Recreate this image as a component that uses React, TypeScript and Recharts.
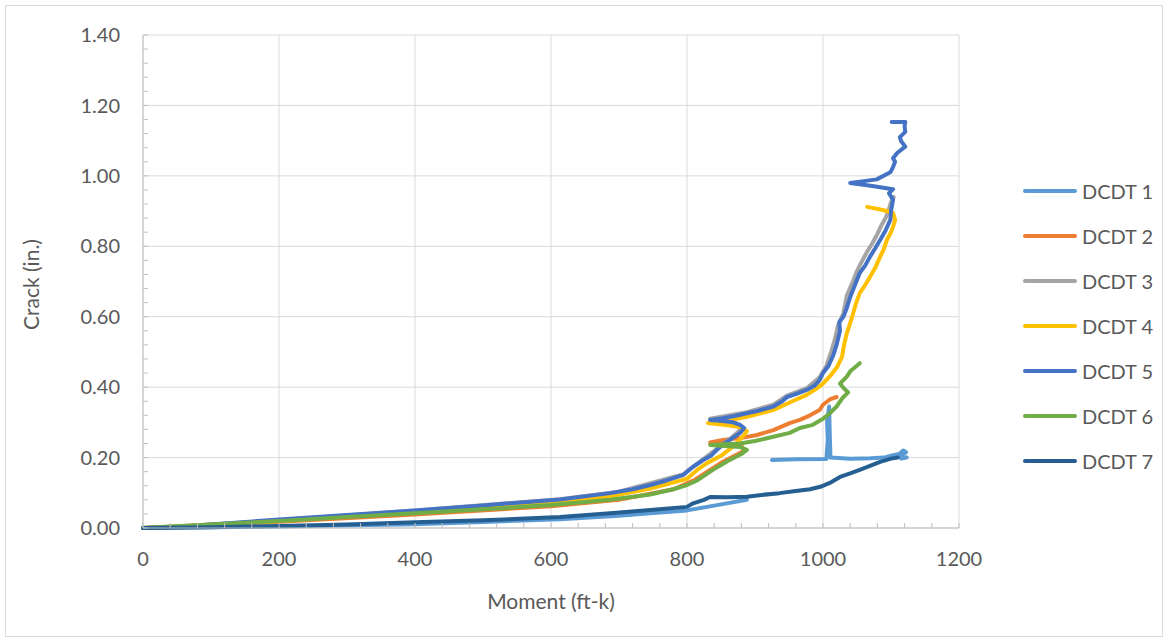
import React from "react";
import {
  LineChart,
  Line,
  XAxis,
  YAxis,
  CartesianGrid,
  Legend,
} from "recharts";

// moment (ft-k), crack (in.) pairs
const dcdt1: [number, number | null][] = [
  [0, 0], [200, 0.004], [400, 0.011], [500, 0.017], [613, 0.025], [700, 0.035],
  [746, 0.042], [800, 0.05], [844, 0.065], [888, 0.08], [900, null],
  [925, 0.193], [960, 0.195], [1005, 0.196], [1007, 0.25], [1006, 0.3],
  [1009, 0.345], [1010, 0.26], [1011, 0.2], [1040, 0.197], [1070, 0.198],
  [1090, 0.2], [1100, 0.205], [1112, 0.21], [1118, 0.22], [1122, 0.215],
  [1110, 0.205], [1123, 0.2], [1115, 0.197],
];
const dcdt2: [number, number][] = [
  [0, 0], [100, 0.008], [200, 0.018], [400, 0.038], [600, 0.062], [700, 0.08],
  [780, 0.11], [810, 0.135], [830, 0.16], [850, 0.185], [870, 0.205],
  [885, 0.22], [880, 0.233], [860, 0.238], [834, 0.243], [853, 0.25],
  [880, 0.256], [903, 0.264], [927, 0.278], [951, 0.298], [966, 0.307],
  [981, 0.32], [995, 0.335], [1000, 0.35], [1010, 0.365], [1020, 0.372],
];
const dcdt3: [number, number][] = [
  [0, 0], [100, 0.01], [200, 0.022], [400, 0.05], [613, 0.082], [700, 0.103],
  [795, 0.153], [824, 0.196], [863, 0.253], [882, 0.285], [868, 0.302],
  [834, 0.31], [888, 0.329], [927, 0.35], [947, 0.376], [976, 0.397],
  [995, 0.428], [1005, 0.46], [1012, 0.5], [1018, 0.54], [1022, 0.575],
  [1030, 0.61], [1035, 0.66], [1044, 0.7], [1050, 0.73], [1058, 0.76],
  [1065, 0.785], [1073, 0.81], [1080, 0.835], [1086, 0.86], [1092, 0.88],
  [1097, 0.905], [1100, 0.925], [1104, 0.94],
];
const dcdt4: [number, number][] = [
  [0, 0], [100, 0.009], [200, 0.02], [400, 0.047], [500, 0.06], [613, 0.074],
  [687, 0.09], [746, 0.112], [800, 0.14], [815, 0.165], [830, 0.185],
  [850, 0.205], [870, 0.235], [882, 0.26], [888, 0.275], [880, 0.286],
  [860, 0.292], [831, 0.298], [853, 0.302], [888, 0.316], [927, 0.335],
  [937, 0.344], [955, 0.36], [976, 0.378], [990, 0.395], [1000, 0.41],
  [1012, 0.435], [1021, 0.458], [1028, 0.486], [1031, 0.52], [1035, 0.553],
  [1043, 0.6], [1048, 0.635], [1054, 0.667], [1062, 0.69], [1069, 0.713],
  [1077, 0.74], [1084, 0.77], [1090, 0.795], [1094, 0.818], [1100, 0.84],
  [1103, 0.855], [1106, 0.875], [1103, 0.895], [1088, 0.903], [1065, 0.912],
];
const dcdt5: [number, number][] = [
  [0, 0], [50, 0.003], [100, 0.01], [200, 0.024], [300, 0.037], [400, 0.05],
  [500, 0.064], [613, 0.081], [687, 0.099], [720, 0.11], [746, 0.122],
  [770, 0.135], [795, 0.151], [800, 0.16], [809, 0.174], [824, 0.193],
  [835, 0.205], [844, 0.222], [855, 0.24], [863, 0.25], [878, 0.27],
  [884, 0.284], [878, 0.293], [868, 0.3], [845, 0.305], [834, 0.307],
  [853, 0.312], [870, 0.318], [888, 0.326], [905, 0.333], [927, 0.345],
  [940, 0.36], [947, 0.372], [960, 0.38], [976, 0.392], [988, 0.405],
  [995, 0.42], [1000, 0.44], [1008, 0.46], [1015, 0.49], [1020, 0.52],
  [1025, 0.56], [1024, 0.585], [1030, 0.6], [1035, 0.625], [1040, 0.656],
  [1047, 0.69], [1054, 0.724], [1062, 0.745], [1069, 0.77], [1077, 0.795],
  [1084, 0.818], [1092, 0.845], [1099, 0.875], [1100, 0.9], [1103, 0.932],
  [1097, 0.951], [1103, 0.962], [1070, 0.972], [1040, 0.98], [1060, 0.985],
  [1079, 0.99], [1099, 1.01], [1103, 1.025], [1106, 1.04], [1103, 1.05],
  [1109, 1.065], [1121, 1.083], [1115, 1.098], [1113, 1.11], [1121, 1.125],
  [1120, 1.14], [1121, 1.153], [1101, 1.153],
];
const dcdt6: [number, number][] = [
  [0, 0], [100, 0.01], [200, 0.02], [300, 0.031], [400, 0.042], [500, 0.053],
  [600, 0.065], [687, 0.08], [746, 0.095], [780, 0.11], [800, 0.122],
  [815, 0.135], [838, 0.165], [860, 0.19], [880, 0.21], [888, 0.222],
  [878, 0.23], [855, 0.233], [834, 0.236], [855, 0.238], [878, 0.24],
  [900, 0.247], [927, 0.259], [951, 0.27], [966, 0.284], [985, 0.293],
  [1000, 0.31], [1010, 0.326], [1020, 0.345], [1029, 0.37], [1037, 0.385],
  [1030, 0.398], [1025, 0.41], [1035, 0.43], [1040, 0.445], [1048, 0.458],
  [1054, 0.468],
];
const dcdt7: [number, number][] = [
  [0, 0], [100, 0.002], [200, 0.006], [300, 0.01], [400, 0.016], [500, 0.022],
  [613, 0.031], [687, 0.042], [746, 0.051], [800, 0.06], [809, 0.07],
  [825, 0.08], [834, 0.088], [860, 0.087], [888, 0.089], [910, 0.094],
  [936, 0.099], [960, 0.105], [981, 0.11], [996, 0.117], [1010, 0.128],
  [1025, 0.145], [1040, 0.155], [1054, 0.165], [1070, 0.177], [1084, 0.188],
  [1100, 0.197], [1110, 0.2],
];

const seriesNames = ["DCDT 1", "DCDT 2", "DCDT 3", "DCDT 4", "DCDT 5", "DCDT 6", "DCDT 7"];
const seriesColors = ["#5B9BD5", "#ED7D31", "#A5A5A5", "#FFC000", "#4472C4", "#70AD47", "#255E91"];
const seriesData = [dcdt1, dcdt2, dcdt3, dcdt4, dcdt5, dcdt6, dcdt7];

const xMajorTicks = [0, 200, 400, 600, 800, 1000, 1200];
const xMinorTicks = Array.from({ length: 31 }, (_, i) => i * 40);
const yMajorTicks = [0, 0.2, 0.4, 0.6, 0.8, 1.0, 1.2, 1.4];
const yMinorTicks = Array.from({ length: 36 }, (_, i) => Math.round(i * 4) / 100);

const FONT = "Lato, 'Open Sans', sans-serif";
const TEXT = "#595959";

const series = seriesNames.map((name, i) => ({
  name,
  color: seriesColors[i],
  data: seriesData[i].map(([x, y]) => ({ x, y })),
}));

const renderLegend = () => (
  <div style={{ fontFamily: FONT, fontSize: 20, color: TEXT, whiteSpace: "nowrap", width: "max-content" }}>
    {series.map((s) => (
      <div key={s.name} style={{ display: "flex", alignItems: "center", height: 45 }}>
        <span
          style={{
            display: "inline-block",
            flexShrink: 0,
            width: 54,
            height: 4,
            borderRadius: 2,
            background: s.color,
            marginRight: 5,
          }}
        />
        <span>{s.name}</span>
      </div>
    ))}
  </div>
);

const yTitle = (props: any) => {
  const vb = props.viewBox;
  const cx = 30;
  const cy = vb.y + vb.height / 2 + 3;
  return (
    <text
      x={cx}
      y={cy}
      transform={`rotate(-90, ${cx}, ${cy})`}
      textAnchor="middle"
      dominantBaseline="central"
      fill={TEXT}
      fontSize={21}
      fontFamily={FONT}
    >
      Crack (in.)
    </text>
  );
};

const xTitle = (props: any) => {
  const vb = props.viewBox;
  return (
    <text
      x={vb.x + vb.width / 2}
      y={vb.y + 72}
      textAnchor="middle"
      dominantBaseline="central"
      fill={TEXT}
      fontSize={21}
      fontFamily={FONT}
    >
      Moment (ft-k)
    </text>
  );
};

export default function App() {
  return (
    <div style={{ position: "absolute", left: 0, top: 0, width: 1169, height: 642, background: "#fff" }}>
      <div
        style={{
          position: "absolute",
          left: 5,
          top: 5,
          width: 1158,
          height: 632,
          border: "1px solid #d9d9d9",
          boxSizing: "border-box",
        }}
      />
      <div style={{ position: "absolute", left: 0, top: 0 }}>
        <LineChart width={1169} height={642} margin={{ top: 35, right: 210, bottom: 0, left: 0 }}>
          <CartesianGrid
            stroke="#d9d9d9"
            strokeWidth={1}
            verticalValues={xMajorTicks}
            horizontalValues={yMajorTicks}
          />
          <XAxis
            type="number"
            dataKey="x"
            domain={[0, 1200]}
            ticks={xMinorTicks}
            interval={0}
            height={114}
            tickSize={-5}
            tickMargin={29}
            stroke="#bfbfbf"
            tick={{ fill: TEXT, fontSize: 20, fontFamily: FONT }}
            tickFormatter={(v: number) => (v % 200 === 0 ? String(v) : "")}
            label={xTitle}
          />
          <YAxis
            type="number"
            domain={[0, 1.4]}
            ticks={yMinorTicks}
            interval={0}
            width={143}
            tickSize={-5}
            tickMargin={28}
            stroke="#bfbfbf"
            tick={{ fill: TEXT, fontSize: 20, fontFamily: FONT }}
            tickFormatter={(v: number) => (Math.round(v * 100) % 20 === 0 ? v.toFixed(2) : "")}
            label={yTitle}
          />
          <Legend
            layout="vertical"
            align="right"
            verticalAlign="top"
            content={renderLegend}
            wrapperStyle={{ left: 1023, top: 168, width: 0, height: 0 }}
          />
          {series.map((s) => (
            <Line
              key={s.name}
              data={s.data}
              dataKey="y"
              name={s.name}
              type="linear"
              stroke={s.color}
              strokeWidth={4}
              strokeLinecap="round"
              strokeLinejoin="round"
              dot={false}
              activeDot={false}
              isAnimationActive={false}
            />
          ))}
        </LineChart>
      </div>
    </div>
  );
}
